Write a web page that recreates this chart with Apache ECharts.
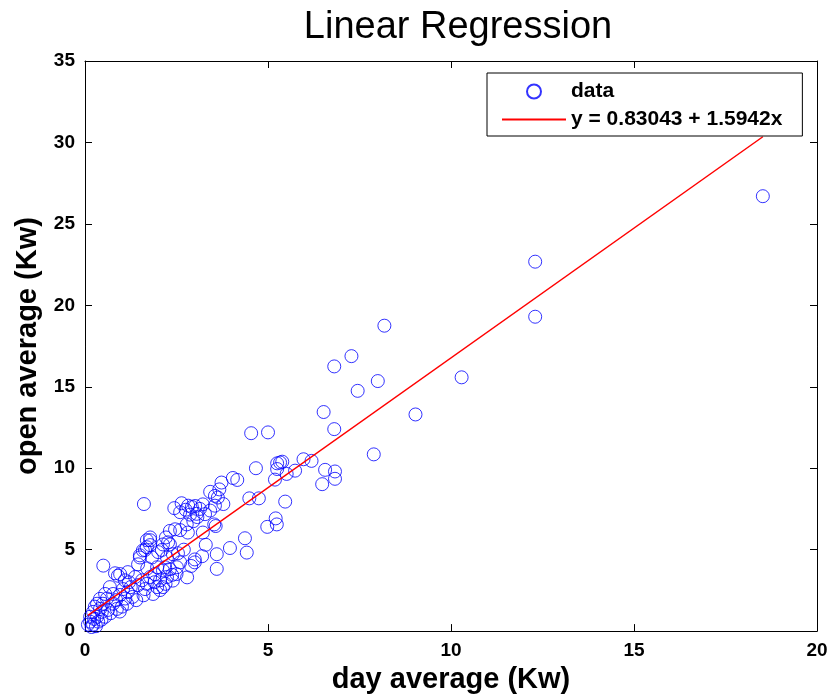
<!DOCTYPE html>
<html>
<head>
<meta charset="utf-8">
<script src="https://cdn.jsdelivr.net/npm/echarts@6/dist/echarts.min.js"></script>
<style>html,body{margin:0;padding:0;background:#fff;}#c{width:831px;height:699px;}</style>
</head>
<body>
<div id="c"></div>
<script>
// day average (Kw), open average (Kw) pairs
const dataPoints = [
  [18.52,26.70],[12.30,22.68],[12.30,19.30],[10.29,15.58],[9.03,13.30],
  [8.18,18.75],[7.28,16.88],[6.81,16.25],[8.00,15.35],[7.45,14.75],
  [6.52,13.45],[6.81,12.40],[7.89,10.85],[5.97,10.55],[6.19,10.45],
  [6.56,9.90],[6.83,9.80],[6.83,9.35],[6.48,9.02],[5.74,9.85],[5.51,9.65],
  [5.33,10.35],[5.25,10.30],[5.39,10.40],[5.25,9.95],[4.54,12.15],[5.00,12.20],
  [4.67,10.00],[5.19,9.30],[4.16,9.28],[3.73,9.12],[3.67,8.70],[3.42,8.55],[3.55,8.30],
  [3.78,7.80],[4.49,8.15],[4.75,8.15],[5.47,7.95],[5.21,6.92],[5.24,6.55],[4.98,6.40],
  [3.57,6.45],[3.22,7.78],[3.01,7.68],[2.92,7.62],[2.64,7.85],[2.75,7.45],[3.28,7.18],[3.05,7.20],
  [2.96,6.75],[2.78,6.55],[4.37,5.70],[3.96,5.10],[4.42,4.82],[3.60,4.72],[3.00,4.40],
  [1.61,7.80],[2.44,7.55],[2.82,7.70],[2.87,7.15],[2.60,7.30],[3.14,7.50],[3.07,7.00],[3.42,7.40],[3.55,7.70],
  [3.63,8.20],[4.04,9.40],[2.46,6.25],[2.32,6.15],[2.60,6.20],[2.81,6.05],[2.21,5.75],[1.78,5.58],[1.78,5.28],
  [1.64,4.98],[1.50,4.65],[2.00,4.85],[2.32,5.32],[2.54,4.78],[3.00,4.22],[3.60,3.82],[3.53,6.55],[3.22,6.05],
  [2.19,3.92],[2.13,3.72],[1.70,3.85],[1.37,3.32],[2.79,3.30],
  [0.50,4.02],[0.82,3.55],[0.96,3.50],[1.17,3.62],[1.09,3.12],[1.45,4.10],[1.50,4.52],[1.58,4.95],[1.69,5.15],
  [1.83,4.52],[1.97,3.92],[2.05,3.12],[1.97,2.70],[2.13,2.70],[1.86,2.28],[2.05,2.52],[1.56,3.12],[1.45,2.82],[1.64,2.58],
  [1.04,2.58],[1.17,2.40],[0.96,2.22],[0.68,2.70],[0.55,2.28],[0.77,2.28],[0.41,1.98],[0.33,1.68],[0.49,1.68],
  [0.77,1.68],[0.87,1.36],[1.01,1.50],[1.15,1.68],[0.63,1.30],[0.46,1.18],[0.55,0.88],[0.22,1.18],[0.33,0.88],[0.14,0.88],
  [0.14,0.58],[0.08,0.40],[0.22,0.40],[0.36,0.58],[0.41,1.36],[0.27,1.50],[1.78,3.32],[1.69,2.90],[1.91,3.50],[2.24,3.32],
  [2.38,3.45],[2.32,3.80],[2.51,3.92],[2.60,4.22],[2.24,4.52],[2.40,4.72],[2.10,4.98],[2.13,5.32],[2.27,5.45],[1.69,5.58],
  [1.78,5.75],[0.90,3.40],[1.20,3.00],[2.90,4.00],[3.20,4.60],[2.70,5.00],[3.30,5.30],[2.50,3.50],
  [1.30,2.10],[1.40,1.90],[0.70,1.10],[1.10,2.00],[1.60,2.20],[2.20,2.90],[2.40,3.10],[0.60,2.00],
  [0.18,0.25],[0.30,0.30],[0.25,0.75],[0.45,0.70],[0.85,1.90],[1.25,2.70],[1.90,3.00],[0.95,1.20]
];
// regression line end points: y = 0.83043 + 1.5942x
const fitLine = [[0.08, 0.96], [18.52, 30.35]];
const xTicks = { min: 0, max: 20, interval: 5 };
const yTicks = { min: 0, max: 35, interval: 5 };

const FONT = 'Liberation Sans, Arial, Helvetica, sans-serif';
const chart = echarts.init(document.getElementById('c'), null, { renderer: 'canvas' });

const axisCommon = {
  type: 'value',
  axisLine: { show: true, onZero: false, lineStyle: { color: '#000', width: 1 } },
  axisTick: { show: true, inside: true, length: 7, lineStyle: { color: '#000', width: 1 } },
  splitLine: { show: false }
};

chart.setOption({
  animation: false,
  backgroundColor: '#fff',
  title: {
    text: 'Linear Regression',
    left: 453, top: 4, textAlign: 'center',
    textStyle: { fontFamily: FONT, fontSize: 38, fontWeight: 'normal', color: '#000' }
  },
  legend: {
    orient: 'vertical', left: 487, top: 73,
    itemWidth: 64, itemHeight: 14, itemGap: 7, itemTextGap: 10,
    padding: [8, 20, 6, 14],
    borderColor: '#000', borderWidth: 1, backgroundColor: '#fff',
    textStyle: { fontFamily: FONT, fontSize: 21, fontWeight: 'bold', color: '#000', lineHeight: 20 },
    data: [
      { name: 'data' },
      { name: 'y = 0.83043 + 1.5942x', itemStyle: { opacity: 0 } }
    ]
  },
  grid: { left: 85, right: 14, top: 61, bottom: 64, containLabel: false },
  xAxis: [
    Object.assign({}, axisCommon, {
      position: 'bottom', min: xTicks.min, max: xTicks.max, interval: xTicks.interval,
      name: 'day average (Kw)', nameLocation: 'middle', nameGap: 29,
      nameTextStyle: { fontFamily: FONT, fontSize: 29, fontWeight: 'bold', color: '#000' },
      axisLabel: { fontFamily: FONT, fontSize: 19, fontWeight: 'bold', color: '#000', margin: 10 }
    }),
    Object.assign({}, axisCommon, {
      position: 'top', min: xTicks.min, max: xTicks.max, interval: xTicks.interval,
      axisLabel: { show: false }
    })
  ],
  yAxis: [
    Object.assign({}, axisCommon, {
      position: 'left', min: yTicks.min, max: yTicks.max, interval: yTicks.interval,
      name: 'open average (Kw)', nameLocation: 'middle', nameGap: 33,
      nameTextStyle: { fontFamily: FONT, fontSize: 29, fontWeight: 'bold', color: '#000' },
      axisLabel: { fontFamily: FONT, fontSize: 19, fontWeight: 'bold', color: '#000', margin: 10 }
    }),
    Object.assign({}, axisCommon, {
      position: 'right', min: yTicks.min, max: yTicks.max, interval: yTicks.interval,
      axisLabel: { show: false }
    })
  ],
  series: [
    {
      name: 'data', type: 'scatter', xAxisIndex: 0, yAxisIndex: 0,
      symbol: 'circle', symbolSize: 13,
      itemStyle: { color: 'rgba(0,0,0,0)', borderColor: '#0000ff', borderWidth: 1 },
      emphasis: { disabled: true },
      data: dataPoints, z: 2
    },
    {
      name: 'y = 0.83043 + 1.5942x', type: 'line', xAxisIndex: 0, yAxisIndex: 0,
      symbol: 'none', showSymbol: false,
      lineStyle: { color: '#ff0000', width: 1.5 },
      itemStyle: { color: '#ff0000' },
      data: fitLine, z: 3
    }
  ]
});
</script>
</body>
</html>
